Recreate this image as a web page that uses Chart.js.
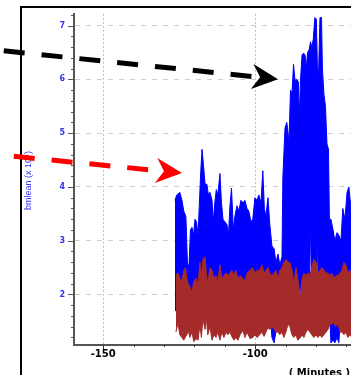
<!DOCTYPE html>
<html><head><meta charset="utf-8">
<script src="https://cdn.jsdelivr.net/npm/chart.js@4/dist/chart.umd.min.js"></script>
<style>html,body{margin:0;padding:0;background:#fff;overflow:hidden}#wrap{width:351px;height:375px;position:relative}</style>
</head><body><div id="wrap"><canvas id="c" width="351" height="375"></canvas></div>
<script>
// ---- data (minutes, bmlean x 10^4) ----
const blueTime = [
-126.4,-125.8,-124.8,-124.1,-123.5,-122.8,-122.3,-121.8,-121.3,-120.8,
-120.3,-119.8,-119.3,-118.8,-118.4,-117.9,-117.5,-117.0,-116.5,-115.9,
-115.4,-114.9,-114.2,-113.8,-113.3,-112.8,-112.3,-111.6,-111.1,-110.6,
-110.0,-109.3,-108.8,-108.3,-107.8,-107.2,-106.7,-106.0,-105.4,-104.7,
-104.0,-103.4,-102.7,-102.1,-101.4,-100.8,-100.1,-99.4,-98.8,-98.1,
-97.5,-97.0,-96.5,-95.8,-95.2,-94.5,-93.8,-93.2,-92.5,-91.9,
-91.2,-90.9,-90.2,-89.6,-88.9,-88.4,-87.9,-87.4,-86.9,-86.3,
-85.8,-85.5,-85.1,-84.6,-84.1,-83.6,-83.2,-82.8,-82.3,-81.8,
-81.4,-80.9,-80.4,-79.9,-79.5,-79.2,-78.7,-78.2,-77.9,-77.4,
-76.9,-76.4,-75.9,-75.6,-75.1,-74.4,-73.8,-73.1,-72.5,-71.8,
-71.2,-70.5,-69.8,-69.2,-68.5,-67.9];
const blueHigh = [
3.75,3.85,3.9,3.75,3.55,3.45,2.6,2.5,3.2,3.25,
3.1,3.4,3.35,3.1,3.65,4.3,4.7,4.4,4.05,4.05,
3.85,3.9,3.75,3.35,3.7,3.95,3.85,4.25,3.7,3.4,
3.35,3.3,3.1,3.65,3.98,3.2,3.45,3.65,3.55,3.75,
3.7,3.75,3.6,3.55,3.35,3.4,3.8,3.75,3.85,3.7,
4.3,3.6,3.45,3.8,3.3,2.9,2.85,2.6,2.75,2.55,
2.7,4.2,5.1,5.2,4.85,5.8,5.75,6.28,5.98,6.0,
5.95,5.3,6.0,6.45,6.49,6.45,6.2,6.5,6.55,6.7,
6.6,6.75,7.15,7.12,6.1,6.05,7.15,7.15,6.2,5.72,
5.5,4.8,4.7,3.4,3.4,3.2,3.0,3.15,3.1,3.0,
3.6,3.4,3.9,4.0,3.6,3.5];
const blueLow = [
1.7,1.7,1.7,1.7,1.7,1.7,1.7,1.7,1.7,1.7,
1.7,1.7,1.7,1.7,1.7,1.7,1.7,1.7,1.7,1.7,
1.7,1.7,1.7,1.7,1.7,1.7,1.7,1.7,1.7,1.7,
1.7,1.7,1.7,1.7,1.7,1.7,1.7,1.7,1.7,1.7,
1.7,1.7,1.7,1.7,1.7,1.7,1.7,1.7,1.7,1.7,
1.7,1.7,1.7,1.7,1.7,1.2,1.1,1.3,1.7,1.7,
1.7,1.7,1.7,1.7,1.7,1.7,1.7,1.7,1.7,1.7,
1.7,1.7,2.3,1.7,1.7,1.7,1.7,1.7,1.7,3.4,
1.7,1.7,1.7,1.7,3.2,1.7,1.7,1.7,1.7,1.7,
1.7,1.7,1.7,1.7,1.1,1.15,1.1,1.2,1.1,1.7,
1.7,1.7,1.7,1.7,1.7,1.7];
const redTime = [
-126.1,-125.4,-124.8,-124.1,-123.5,-123.0,-122.5,-122.0,-121.5,-120.8,
-120.2,-119.5,-118.8,-118.2,-117.7,-117.2,-116.5,-116.1,-115.6,-114.9,
-114.2,-113.6,-112.9,-112.3,-111.6,-111.0,-110.3,-109.6,-109.0,-108.3,
-107.7,-107.0,-106.4,-105.7,-105.0,-104.0,-103.4,-102.7,-101.7,-100.8,
-100.1,-99.4,-98.5,-97.8,-97.1,-96.5,-95.8,-95.2,-94.5,-93.8,
-93.2,-92.5,-91.9,-91.2,-90.6,-89.9,-89.2,-88.6,-87.9,-87.3,
-86.6,-86.0,-85.1,-84.6,-84.0,-83.3,-82.7,-82.0,-81.4,-80.7,
-80.0,-79.4,-78.7,-78.1,-77.4,-76.7,-76.1,-75.4,-74.8,-74.1,
-73.5,-72.8,-72.1,-71.5,-70.8,-70.2,-69.5,-68.9,-68.2];
const redHigh = [
2.37,2.4,2.3,2.25,2.45,2.5,2.3,2.2,2.15,2.05,
2.25,2.3,2.2,2.6,2.35,2.65,2.7,2.4,2.2,2.5,
2.45,2.3,2.35,2.25,2.55,2.3,2.35,2.4,2.35,2.4,
2.45,2.35,2.45,2.3,2.35,2.3,2.25,2.4,2.45,2.5,
2.4,2.45,2.45,2.55,2.4,2.45,2.5,2.4,2.35,2.4,
2.45,2.3,2.45,2.5,2.6,2.65,2.6,2.6,2.45,2.2,
2.5,2.3,1.9,2.3,2.4,2.35,2.4,2.35,2.5,2.65,
2.6,2.4,2.45,2.5,2.45,2.4,2.4,2.35,2.4,2.3,
2.35,2.35,2.4,2.45,2.6,2.55,2.4,2.45,2.4];
const redLow = [
1.3,1.47,1.25,1.2,1.15,1.2,1.25,1.33,1.2,1.3,
1.12,1.18,1.15,1.43,1.2,1.55,1.35,1.58,1.25,1.4,
1.15,1.25,1.2,1.3,1.15,1.3,1.2,1.3,1.25,1.3,
1.22,1.15,1.2,1.15,1.25,1.33,1.2,1.3,1.18,1.2,
1.25,1.2,1.25,1.3,1.22,1.3,1.38,1.35,1.4,1.35,
1.3,1.3,1.25,1.3,1.2,1.3,1.45,1.4,1.25,1.2,
1.25,1.15,1.2,1.25,1.2,1.3,1.35,1.3,1.25,1.2,
1.25,1.2,1.25,1.2,1.25,1.3,1.35,1.45,1.45,1.47,
1.4,1.45,1.3,1.3,1.25,1.3,1.2,1.25,1.2];
const xTickLabels = [-150, -100];
const yTickLabels = [2, 3, 4, 5, 6, 7];
const yTitle = 'bmlean (x 10\u2074)';
const xTitle = '( Minutes )';
// annotation arrows in data units: [minutes, value]
const arrowFrom = [[-182.7, 6.532], [-179.4, 4.569]];
const arrowTo   = [[-92.5, 6.004], [-124.1, 4.258]];
const arrowColors = ['#000000', '#ff0000'];

const BLUE = '#0000ff', RED = '#a52a2a';
const pts = (t, v) => t.map((x, i) => ({x: x, y: v[i]}));

function drawArrow(ctx, x0, y0, x1, y1, color) {
  const dx = x1 - x0, dy = y1 - y0, L = Math.hypot(dx, dy);
  const ux = dx / L, uy = dy / L, nx = -uy, ny = ux;
  const headLen = 26, half = 12.5, notch = 18;
  ctx.save();
  ctx.strokeStyle = color; ctx.lineWidth = 5; ctx.lineCap = 'butt';
  ctx.setLineDash([21, 17]);
  ctx.beginPath(); ctx.moveTo(x0, y0); ctx.lineTo(x1 - ux * notch, y1 - uy * notch); ctx.stroke();
  ctx.setLineDash([]);
  ctx.fillStyle = color;
  ctx.beginPath();
  ctx.moveTo(x1, y1);
  ctx.lineTo(x1 - ux * headLen + nx * half, y1 - uy * headLen + ny * half);
  ctx.lineTo(x1 - ux * notch, y1 - uy * notch);
  ctx.lineTo(x1 - ux * headLen - nx * half, y1 - uy * headLen - ny * half);
  ctx.closePath(); ctx.fill();
  ctx.restore();
}

const decor = {
  id: 'decor',
  afterDraw(chart) {
    const {ctx, scales: {x, y}} = chart;
    ctx.save();
    // tick marks
    ctx.strokeStyle = '#555'; ctx.lineWidth = 1;
    y.ticks.forEach(t => {
      const py = Math.round(y.getPixelForValue(t.value)) + 0.5;
      const major = Math.abs(t.value - Math.round(t.value)) < 1e-6;
      const len = major ? 6 : 3;
      ctx.beginPath(); ctx.moveTo(y.right - len, py); ctx.lineTo(y.right, py); ctx.stroke();
    });
    ctx.strokeStyle = '#333';
    x.ticks.forEach(t => {
      const px = Math.round(x.getPixelForValue(t.value)) + 0.5;
      const major = xTickLabels.includes(t.value);
      const len = major ? 4 : 2;
      ctx.beginPath(); ctx.moveTo(px, x.top); ctx.lineTo(px, x.top + len); ctx.stroke();
    });
    // frame
    ctx.strokeStyle = '#000'; ctx.lineWidth = 2;
    ctx.beginPath(); ctx.moveTo(21, 380); ctx.lineTo(21, 7); ctx.lineTo(360, 7); ctx.stroke();
    // titles
    ctx.fillStyle = '#3535f0';
    ctx.font = '9px "Liberation Sans", Arial, sans-serif';
    ctx.textAlign = 'center'; ctx.textBaseline = 'middle';
    ctx.translate(28.5, 180.5); ctx.rotate(-Math.PI / 2);
    ctx.fillText(yTitle, 0, 0);
    ctx.setTransform(1, 0, 0, 1, 0, 0);
    ctx.fillStyle = '#000';
    ctx.font = 'bold 10px "DejaVu Sans", sans-serif';
    ctx.textAlign = 'right';
    ctx.fillText(xTitle, 350, 373);
    ctx.restore();
    // arrows
    for (let i = 0; i < arrowFrom.length; i++) {
      drawArrow(ctx,
        x.getPixelForValue(arrowFrom[i][0]), y.getPixelForValue(arrowFrom[i][1]),
        x.getPixelForValue(arrowTo[i][0]), y.getPixelForValue(arrowTo[i][1]),
        arrowColors[i]);
    }
  }
};

new Chart(document.getElementById('c'), {
  type: 'line',
  data: {
    datasets: [
      {label: 'red high', data: pts(redTime, redHigh), borderColor: RED, backgroundColor: RED, fill: '+1', borderWidth: 1, pointRadius: 0, tension: 0},
      {label: 'red low', data: pts(redTime, redLow), borderColor: RED, backgroundColor: RED, fill: false, borderWidth: 1, pointRadius: 0, tension: 0},
      {label: 'blue high', data: pts(blueTime, blueHigh), borderColor: BLUE, backgroundColor: BLUE, fill: '+1', borderWidth: 1, pointRadius: 0, tension: 0},
      {label: 'blue low', data: pts(blueTime, blueLow), borderColor: BLUE, backgroundColor: BLUE, fill: false, borderWidth: 1, pointRadius: 0, tension: 0}
    ]
  },
  options: {
    responsive: false, animation: false, devicePixelRatio: 1,
    layout: {padding: {top: 8, left: 0, right: 0, bottom: 0}},
    plugins: {legend: {display: false}, tooltip: {enabled: false}, filler: {drawTime: 'beforeDatasetDraw'}},
    scales: {
      x: {
        type: 'linear', min: -159.6, max: -68.5,
        afterFit(s) { s.height = 30; },
        ticks: {stepSize: 10, includeBounds: false, autoSkip: false, maxRotation: 0, padding: 3,
          color: '#000', font: {family: 'DejaVu Sans', weight: 'bold', size: 10},
          callback: v => xTickLabels.includes(v) ? String(v) : ''},
        grid: {drawTicks: false, lineWidth: 1,
          color: c => (c.tick && xTickLabels.includes(c.tick.value)) ? '#bdbdbd' : 'rgba(0,0,0,0)'},
        border: {display: true, color: '#555', width: 2, dash: [2, 2]}
      },
      y: {
        type: 'linear', min: 1.06, max: 7.22,
        afterFit(s) { s.width = 74; },
        ticks: {stepSize: 0.2, includeBounds: false, autoSkip: false, padding: 9,
          color: '#3535f0', font: {family: 'DejaVu Sans', weight: 'bold', size: 8},
          callback: v => (Math.abs(v - Math.round(v)) < 1e-6 && yTickLabels.includes(Math.round(v))) ? String(Math.round(v)) : ''},
        grid: {drawTicks: false, lineWidth: 1,
          color: c => (c.tick && Math.abs(c.tick.value - Math.round(c.tick.value)) < 1e-6) ? '#cfcfcf' : 'rgba(0,0,0,0)'},
        border: {display: true, color: '#555', width: 2, dash: [5, 6]}
      }
    }
  },
  plugins: [decor]
});
</script></body></html>
